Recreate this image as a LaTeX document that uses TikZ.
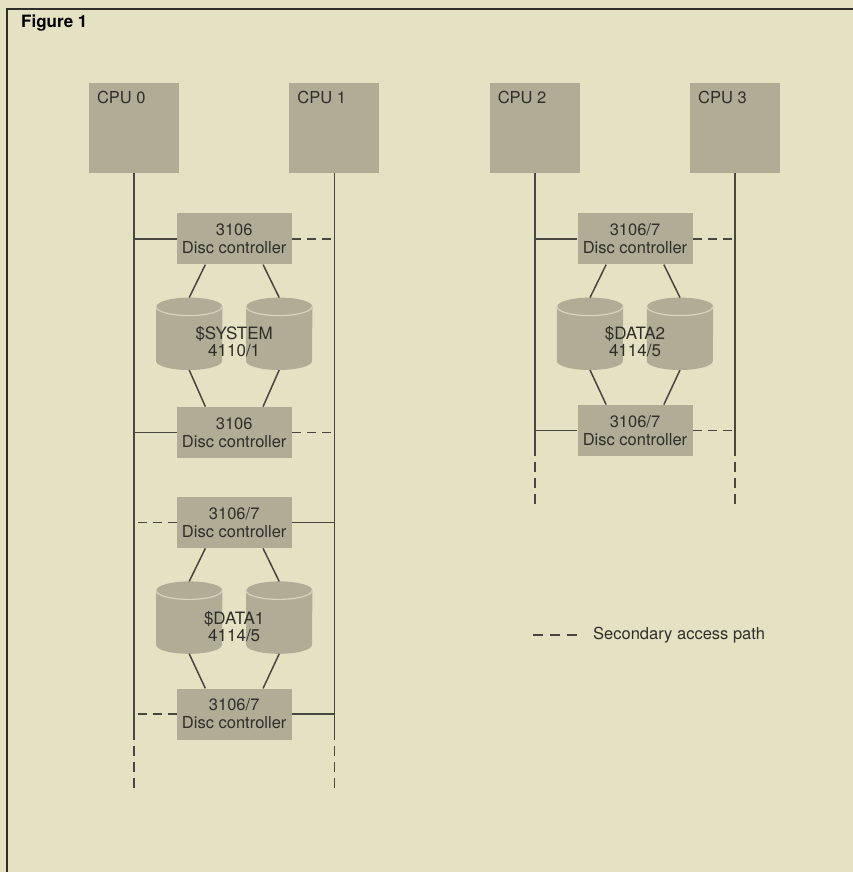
\documentclass[tikz,border=0pt]{standalone}
\usepackage{fontspec}
\setmainfont{TeX Gyre Heros}
\usetikzlibrary{positioning, calc}
\definecolor{paper}{HTML}{E4E2C3}
\definecolor{boxgray}{HTML}{B0AC96}
\definecolor{rimgray}{HTML}{D6D4BE}
\definecolor{inkgray}{HTML}{48473F}
\definecolor{textgray}{HTML}{2F2E29}

\begin{document}
\begin{tikzpicture}[x=1pt, y=1pt,
    cpu/.style={rectangle, fill=boxgray, minimum width=90pt, minimum height=90pt, inner sep=0pt},
    cputext/.style={anchor=north west, inner sep=8pt, font=\fontsize{16.5}{18}\selectfont, text=textgray},
    controller/.style={rectangle, fill=boxgray, minimum width=115pt, minimum height=51pt,
                       inner sep=0pt, align=center, font=\fontsize{16.5}{18}\selectfont, text=textgray},
    disk/.style={rectangle, minimum width=66pt, minimum height=72pt, inner sep=0pt},
    disklabel/.style={align=center, font=\fontsize{17}{17}\selectfont, text=textgray},
    link/.style={line width=1.5pt, inkgray},
    secondary/.style={link, dash pattern=on 9pt off 6pt},
    rim/.style={line width=1.2pt, rimgray},
    frame/.style={line width=1.8pt, textgray}
  ]
    % paper and frame
    \fill[paper] (0,0) rectangle (853,-872);
    \useasboundingbox (0,0) rectangle (853,-872);
    \draw[frame] (7,-872) -- (7,-9) -- (853,-9);
    \node[anchor=north west, inner sep=0pt, font=\fontsize{17}{19}\selectfont\bfseries] (title) at (21,-15) {Figure 1};

    % processors
    \node[cpu, label={[cputext]north west:CPU 0}] (cpu0) at (134,-128) {};
    \node[cpu, right=110pt of cpu0, label={[cputext]north west:CPU 1}] (cpu1) {};
    \node[cpu, right=110pt of cpu1, label={[cputext]north west:CPU 2}] (cpu2) {};
    \node[cpu, right=110pt of cpu2, label={[cputext]north west:CPU 3}] (cpu3) {};

    \coordinate (midL) at ($(cpu0.south)!0.5!(cpu1.south)$);
    \coordinate (midR) at ($(cpu2.south)!0.5!(cpu3.south)$);

    % left group
    \node[controller, below=40pt of midL] (ctrl1) {3106\\Disc controller};
    \node[disk, below=33pt of ctrl1, xshift=-45pt] (sysl) {};
    \node[disk, below=33pt of ctrl1, xshift=45pt] (sysr) {};
    \node[controller, below=142pt of ctrl1] (ctrl2) {3106\\Disc controller};

    \node[controller, below=39pt of ctrl2] (ctrl3) {3106/7\\Disc controller};
    \node[disk, below=33pt of ctrl3, xshift=-45pt] (dat1l) {};
    \node[disk, below=33pt of ctrl3, xshift=45pt] (dat1r) {};
    \node[controller, below=140pt of ctrl3] (ctrl4) {3106/7\\Disc controller};

    % right group
    \node[controller, below=40pt of midR] (ctrlA) {3106/7\\Disc controller};
    \node[disk, below=33pt of ctrlA, xshift=-45pt] (dat2l) {};
    \node[disk, below=33pt of ctrlA, xshift=45pt] (dat2r) {};
    \node[controller, below=140pt of ctrlA] (ctrlB) {3106/7\\Disc controller};

    % disc drums with a light rim on top
    \foreach \d in {sysl,sysr,dat1l,dat1r,dat2l,dat2r} {
      \fill[boxgray] ([yshift=-9pt]\d.north west) -- ([yshift=9pt]\d.south west)
        arc[start angle=180, end angle=360, x radius=33pt, y radius=9pt]
        -- ([yshift=-9pt]\d.north east)
        arc[start angle=0, end angle=180, x radius=33pt, y radius=9pt] -- cycle;
      \draw[rim] ([yshift=-9pt]\d.north west)
        arc[start angle=180, end angle=360, x radius=33pt, y radius=9pt];
    }
    \node[disklabel, yshift=-8pt] (syslabel) at ($(sysl)!0.5!(sysr)$) {\$SYSTEM\\4110/1};
    \node[disklabel, yshift=-9pt] (dat1label) at ($(dat1l)!0.5!(dat1r)$) {\$DATA1\\4114/5};
    \node[disklabel, yshift=-8pt] (dat2label) at ($(dat2l)!0.5!(dat2r)$) {\$DATA2\\4114/5};

    % buses
    \coordinate (end0) at (cpu0.south |- ctrl4.south);
    \coordinate (end1) at (cpu1.south |- ctrl4.south);
    \coordinate (end2) at (cpu2.south |- ctrlB.south);
    \coordinate (end3) at (cpu3.south |- ctrlB.south);
    \draw[link] (cpu0.south) -- (end0);
    \draw[link] (cpu1.south) -- (end1);
    \draw[link] (cpu2.south) -- (end2);
    \draw[link] (cpu3.south) -- (end3);
    \draw[secondary, dash pattern=on 10pt off 6pt] ([yshift=-6pt]end0) -- ([yshift=-54pt]end0);
    \draw[secondary, dash pattern=on 10pt off 6pt] ([yshift=-6pt]end1) -- ([yshift=-54pt]end1);
    \draw[secondary, dash pattern=on 10pt off 6pt] ([yshift=-6pt]end2) -- ([yshift=-52pt]end2);
    \draw[secondary, dash pattern=on 10pt off 6pt] ([yshift=-6pt]end3) -- ([yshift=-52pt]end3);

    % controller ports
    \draw[link] (ctrl1.west) -- (ctrl1.west -| cpu0.south);
    \draw[secondary] (ctrl1.east) -- (ctrl1.east -| cpu1.south);
    \draw[link] (ctrl2.west) -- (ctrl2.west -| cpu0.south);
    \draw[secondary] (ctrl2.east) -- (ctrl2.east -| cpu1.south);
    \draw[secondary] (ctrl3.west) -- (ctrl3.west -| cpu0.south);
    \draw[link] (ctrl3.east) -- (ctrl3.east -| cpu1.south);
    \draw[secondary] (ctrl4.west) -- (ctrl4.west -| cpu0.south);
    \draw[link] (ctrl4.east) -- (ctrl4.east -| cpu1.south);
    \draw[link] (ctrlA.west) -- (ctrlA.west -| cpu2.south);
    \draw[secondary] (ctrlA.east) -- (ctrlA.east -| cpu3.south);
    \draw[link] (ctrlB.west) -- (ctrlB.west -| cpu2.south);
    \draw[secondary] (ctrlB.east) -- (ctrlB.east -| cpu3.south);

    % controllers to discs
    \draw[link] ($(ctrl1.south west)!0.25!(ctrl1.south east)$) -- (sysl.north);
    \draw[link] ($(ctrl1.south west)!0.75!(ctrl1.south east)$) -- (sysr.north);
    \draw[link] (sysl.south) -- ($(ctrl2.north west)!0.25!(ctrl2.north east)$);
    \draw[link] (sysr.south) -- ($(ctrl2.north west)!0.75!(ctrl2.north east)$);
    \draw[link] ($(ctrl3.south west)!0.25!(ctrl3.south east)$) -- (dat1l.north);
    \draw[link] ($(ctrl3.south west)!0.75!(ctrl3.south east)$) -- (dat1r.north);
    \draw[link] (dat1l.south) -- ($(ctrl4.north west)!0.25!(ctrl4.north east)$);
    \draw[link] (dat1r.south) -- ($(ctrl4.north west)!0.75!(ctrl4.north east)$);
    \draw[link] ($(ctrlA.south west)!0.25!(ctrlA.south east)$) -- (dat2l.north);
    \draw[link] ($(ctrlA.south west)!0.75!(ctrlA.south east)$) -- (dat2r.north);
    \draw[link] (dat2l.south) -- ($(ctrlB.north west)!0.25!(ctrlB.north east)$);
    \draw[link] (dat2r.south) -- ($(ctrlB.north west)!0.75!(ctrlB.north east)$);

    % legend
    \coordinate (legA) at (533,-635);
    \node[anchor=west, inner sep=0pt, font=\fontsize{16.5}{18}\selectfont, text=textgray] (legtext) at (593,-635) {Secondary access path};
    \coordinate[left=15pt of legtext] (legB);
    \draw[secondary, dash pattern=on 10pt off 7pt] (legA) -- (legB);
  \end{tikzpicture}
\end{document}
